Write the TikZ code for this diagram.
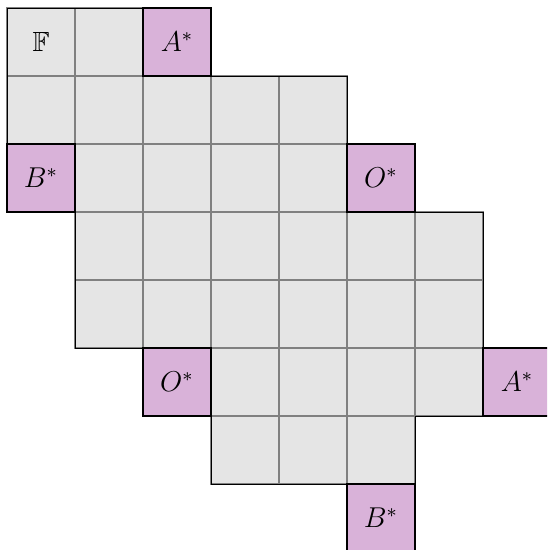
\documentclass[tikz,border=0pt]{standalone}
\usepackage{amssymb}
\begin{document}
\begin{tikzpicture}[
  every node/.style={font=\fontsize{11.6}{14}\selectfont},
  cellbox/.style={draw=gray, fill=gray!20, line width=0.5pt, minimum size=1cm, inner sep=0pt, outer sep=0pt, anchor=center},
  starbox/.style={draw=black, fill=violet!30, line width=0.5pt, minimum size=1cm, inner sep=0pt, outer sep=0pt, anchor=center},
]
\useasboundingbox (-0.103,0.118) rectangle (7.941,-7.970);
\clip (-0.103,0.118) rectangle (7.941,-7.970);
% gray cells: row/col lists
\foreach \r/\cols in {0/{0,1},1/{0,1,2,3,4},2/{1,2,3,4},3/{1,2,3,4,5,6},4/{1,2,3,4,5,6},5/{3,4,5,6},6/{3,4,5}}{
  \foreach \c in \cols {
    \node[cellbox] (g\r\c) at (\c+0.5,-\r-0.5) {};
  }
}
\node at (g00) {$\mathbb{F}$};
% outline of the gray region
\draw[black, line width=0.4pt] (0,0) -- (2,0) -- (2,-1) -- (5,-1) -- (5,-3) -- (7,-3) -- (7,-6) -- (6,-6) -- (6,-7) -- (3,-7) -- (3,-5) -- (1,-5) -- (1,-2) -- (0,-2) -- cycle;
% starred cells
\node[starbox] (a1) at (2.5,-0.5) {$A^*$};
\node[starbox] (b1) at (0.5,-2.5) {$B^*$};
\node[starbox] (o1) at (5.5,-2.5) {$O^*$};
\node[starbox] (o2) at (2.5,-5.5) {$O^*$};
\node[starbox] (a2) at (7.5,-5.5) {$A^*$};
\node[starbox] (b2) at (5.5,-7.5) {$B^*$};
\end{tikzpicture}
\end{document}
